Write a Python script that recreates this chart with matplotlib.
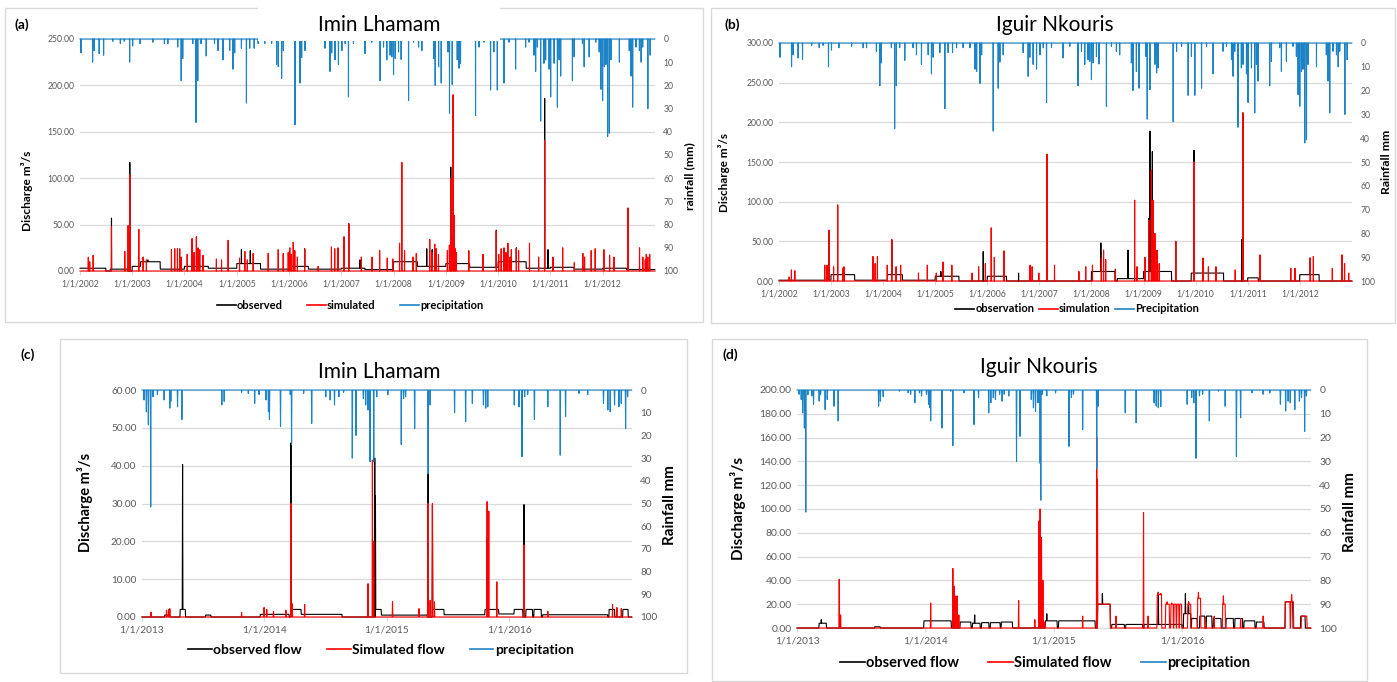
import matplotlib
matplotlib.use("Agg")
import matplotlib.pyplot as plt
import numpy as np
import pandas as pd
from matplotlib.lines import Line2D
from matplotlib.patches import Rectangle
from matplotlib.ticker import FuncFormatter

plt.rcParams['font.family'] = ['Lato', 'DejaVu Sans']

# ---------------- DATA ----------------
# daily rainfall events (date, mm) shared by panels (a) and (b), 2002-2012
prec_ab = [
    ("2002-01-08", 6), ("2002-03-30", 10), ("2002-04-10", 5), ("2002-05-15", 6.3), ("2002-06-15", 7),
    ("2002-08-18", 1), ("2002-10-10", 2), ("2002-11-06", 1), ("2002-12-14", 10),
    ("2003-01-04", 3), ("2003-02-25", 2), ("2003-05-25", 1.4), ("2003-08-14", 2), ("2003-09-07", 2),
    ("2003-11-15", 3.5), ("2003-12-09", 18), ("2003-12-20", 8.4),
    ("2004-02-28", 2), ("2004-03-22", 36), ("2004-04-03", 18), ("2004-04-26", 2), ("2004-06-01", 7.3),
    ("2004-07-29", 2), ("2004-08-22", 5), ("2004-09-26", 9), ("2004-11-12", 5), ("2004-12-05", 13), ("2004-12-17", 6),
    ("2005-02-02", 4), ("2005-03-09", 27.6), ("2005-04-01", 4), ("2005-05-02", 4), ("2005-05-30", 2),
    ("2005-07-15", 2), ("2005-09-01", 2), ("2005-10-06", 11), ("2005-10-18", 12), ("2005-11-10", 17), ("2005-11-22", 5),
    ("2006-02-11", 37), ("2006-03-18", 19), ("2006-03-30", 8), ("2006-04-22", 5), ("2006-09-09", 4),
    ("2006-10-14", 14), ("2006-10-26", 6), ("2006-11-18", 9), ("2006-12-12", 11),
    ("2007-01-05", 5), ("2007-01-28", 2), ("2007-02-20", 25), ("2007-03-27", 2), ("2007-06-16", 6.3),
    ("2007-08-02", 1.4), ("2007-09-29", 18), ("2007-10-23", 3.5), ("2007-11-15", 9), ("2007-12-08", 7), ("2007-12-20", 7.7),
    ("2008-01-01", 15.4), ("2008-01-13", 8.4), ("2008-02-05", 5.6), ("2008-02-23", 8.8), ("2008-04-15", 26.6),
    ("2008-05-20", 1.4), ("2008-06-24", 3.5), ("2008-07-17", 5), ("2008-10-07", 8.4), ("2008-10-18", 20),
    ("2008-11-11", 12), ("2008-11-29", 19),
    ("2009-01-16", 5.6), ("2009-01-26", 32), ("2009-02-14", 19.6), ("2009-03-21", 9), ("2009-04-02", 12.6),
    ("2009-04-13", 10.5), ("2009-07-27", 33), ("2009-08-20", 3.5), ("2009-09-24", 1.4), ("2009-11-09", 22),
    ("2009-12-02", 5.6), ("2009-12-26", 22),
    ("2010-02-11", 19), ("2010-03-18", 1.4), ("2010-05-03", 13), ("2010-07-12", 3.5), ("2010-08-05", 1.4),
    ("2010-09-09", 7), ("2010-09-20", 14), ("2010-10-02", 3.5), ("2010-10-25", 35.4), ("2010-11-17", 10.5),
    ("2010-11-29", 9), ("2010-12-23", 13),
    ("2011-01-03", 25), ("2011-01-27", 10.5), ("2011-02-19", 29.4), ("2011-03-03", 9), ("2011-03-14", 16),
    ("2011-06-04", 18), ("2011-06-16", 7.7), ("2011-08-13", 2), ("2011-08-25", 12), ("2011-09-29", 7.7),
    ("2011-11-14", 1.4), ("2011-12-08", 5.6), ("2011-12-20", 21.7),
    ("2012-01-01", 26.6), ("2012-01-13", 12), ("2012-01-24", 11), ("2012-02-05", 42), ("2012-02-17", 40.6),
    ("2012-02-28", 9), ("2012-04-27", 10), ("2012-07-05", 5), ("2012-07-17", 16), ("2012-07-29", 29.4),
    ("2012-08-21", 3.5), ("2012-09-14", 5), ("2012-09-26", 10), ("2012-10-07", 3.5), ("2012-11-12", 30), ("2012-11-28", 7),
]

# panel (a) Imin Lhamam 2002-2012
obs_a_base = [
    ("2002-01-01", "2002-06-30", 3), ("2002-08-01", "2002-11-30", 2), ("2003-01-01", "2003-02-28", 5),
    ("2003-03-01", "2003-07-15", 10), ("2003-07-16", "2003-12-31", 2), ("2004-01-01", "2004-06-15", 5),
    ("2004-06-16", "2004-12-31", 3), ("2005-01-01", "2005-06-15", 8), ("2005-06-16", "2005-12-31", 2),
    ("2006-01-01", "2006-05-15", 5), ("2006-05-16", "2006-12-31", 2), ("2007-01-01", "2007-06-15", 3),
    ("2007-06-16", "2007-12-31", 1.5), ("2008-01-01", "2008-06-15", 10), ("2008-06-16", "2008-12-31", 5),
    ("2009-01-01", "2009-06-15", 8), ("2009-06-16", "2009-12-31", 4), ("2010-01-01", "2010-07-15", 10),
    ("2010-07-16", "2010-12-31", 3), ("2011-01-01", "2011-06-15", 4), ("2011-06-16", "2011-12-31", 2),
    ("2012-01-01", "2012-06-15", 3), ("2012-06-16", "2012-12-31", 1.5),
]
obs_a_peaks = [
    ("2002-08-09", 57), ("2002-12-15", 117), ("2003-04-20", 12), ("2005-02-02", 23), ("2005-04-05", 22),
    ("2006-04-20", 24), ("2007-02-22", 51), ("2007-05-11", 12), ("2008-08-20", 24), ("2008-09-27", 23),
    ("2009-02-04", 112), ("2009-02-20", 30), ("2009-12-19", 44), ("2010-05-08", 25), ("2010-11-22", 186),
    ("2010-12-15", 23),
]
sim_a_peaks = [
    ("2002-02-28", 15), ("2002-03-10", 10), ("2002-04-03", 17), ("2002-08-09", 48), ("2002-11-10", 21),
    ("2002-12-03", 49), ("2002-12-15", 104), ("2003-02-16", 45), ("2003-03-18", 15), ("2003-04-10", 12),
    ("2003-10-02", 23), ("2003-10-25", 24), ("2003-11-13", 24), ("2003-11-29", 24), ("2003-12-10", 15),
    ("2004-01-20", 18), ("2004-02-23", 35), ("2004-03-08", 20), ("2004-03-24", 37), ("2004-04-05", 25),
    ("2004-04-17", 23), ("2004-05-10", 17), ("2004-08-11", 13), ("2004-09-16", 12), ("2004-11-01", 33),
    ("2005-01-20", 14), ("2005-02-26", 21), ("2005-03-15", 12), ("2005-04-25", 19), ("2005-08-08", 19),
    ("2005-10-17", 23), ("2005-11-21", 19), ("2005-12-26", 20), ("2006-01-06", 25), ("2006-01-15", 18),
    ("2006-01-30", 31), ("2006-02-10", 22), ("2006-02-28", 15), ("2006-04-20", 24), ("2006-07-23", 5),
    ("2006-10-24", 26), ("2006-11-16", 24), ("2006-12-09", 25), ("2007-01-20", 37), ("2007-02-22", 51),
    ("2007-05-21", 15), ("2007-08-04", 15), ("2007-09-26", 22), ("2007-11-18", 14), ("2007-12-27", 13),
    ("2008-02-12", 30), ("2008-02-28", 117), ("2008-03-18", 22), ("2008-05-16", 15), ("2008-06-08", 19),
    ("2008-09-10", 34), ("2008-09-25", 20), ("2008-10-15", 29), ("2008-10-26", 24), ("2008-11-10", 18),
    ("2009-01-11", 22), ("2009-01-25", 28), ("2009-02-04", 100), ("2009-02-10", 35), ("2009-02-20", 190),
    ("2009-02-27", 60), ("2009-03-08", 24), ("2009-03-15", 20), ("2009-06-10", 22), ("2009-09-17", 18),
    ("2009-12-19", 43), ("2010-01-05", 18), ("2010-01-22", 24), ("2010-02-11", 25), ("2010-02-25", 20),
    ("2010-03-10", 30), ("2010-03-25", 15), ("2010-04-03", 23), ("2010-05-08", 24), ("2010-05-24", 22),
    ("2010-08-08", 30), ("2010-10-11", 15), ("2010-11-22", 141), ("2011-01-19", 15), ("2011-03-28", 25),
    ("2011-06-17", 9), ("2011-08-16", 19), ("2011-08-28", 15), ("2011-10-13", 22), ("2011-11-10", 24),
    ("2012-01-10", 23), ("2012-02-19", 17), ("2012-03-20", 15), ("2012-06-26", 68), ("2012-09-15", 25),
    ("2012-10-08", 15), ("2012-10-25", 12), ("2012-11-01", 18), ("2012-11-12", 15), ("2012-11-25", 18),
]

# panel (b) Iguir Nkouris 2002-2012
obs_b_base = [
    ("2002-01-01", "2002-12-31", 1), ("2003-01-01", "2003-06-15", 8), ("2003-06-16", "2004-01-31", 1),
    ("2004-02-01", "2004-05-15", 8), ("2004-05-16", "2004-12-31", 1), ("2005-01-01", "2005-06-15", 6),
    ("2006-01-01", "2006-05-15", 6), ("2008-01-01", "2008-06-15", 12), ("2008-07-01", "2008-12-31", 3),
    ("2009-01-01", "2009-07-15", 12), ("2009-12-01", "2010-07-15", 10), ("2011-01-01", "2011-03-15", 4),
    ("2012-01-01", "2012-05-15", 8),
]
obs_b_peaks = [
    ("2002-12-19", 64), ("2004-03-02", 52), ("2005-02-09", 12), ("2005-12-03", 37), ("2006-08-08", 10),
    ("2008-03-07", 48), ("2008-06-17", 15), ("2008-09-13", 39), ("2009-02-06", 79), ("2009-02-14", 189),
    ("2009-03-03", 163), ("2009-08-14", 50), ("2009-12-20", 165), ("2010-11-19", 52), ("2010-11-28", 212),
    ("2012-03-14", 29),
]
sim_b_peaks = [
    ("2002-03-13", 5), ("2002-03-29", 14), ("2002-04-22", 13), ("2002-11-18", 20), ("2002-12-04", 20),
    ("2002-12-19", 64), ("2003-01-19", 18), ("2003-02-17", 96), ("2003-03-24", 16), ("2003-04-02", 18),
    ("2003-10-22", 31), ("2003-11-06", 22), ("2003-11-22", 31), ("2004-01-30", 20), ("2004-03-02", 52),
    ("2004-04-01", 18), ("2004-05-03", 20), ("2004-09-05", 10), ("2004-11-06", 20), ("2005-01-08", 10),
    ("2005-02-24", 24), ("2005-04-27", 20), ("2005-09-16", 10), ("2005-11-01", 18), ("2005-12-18", 22),
    ("2006-01-28", 67), ("2006-02-19", 30), ("2006-04-28", 38), ("2006-10-27", 20), ("2006-11-11", 18),
    ("2006-12-28", 10), ("2007-02-23", 160), ("2007-04-17", 20), ("2007-10-05", 12), ("2007-11-22", 18),
    ("2008-01-08", 20), ("2008-03-10", 29), ("2008-03-26", 39), ("2008-04-10", 27), ("2008-06-17", 14),
    ("2008-10-30", 102), ("2008-11-15", 18), ("2009-01-11", 30), ("2009-02-06", 77), ("2009-02-24", 140),
    ("2009-03-08", 102), ("2009-03-21", 60), ("2009-04-05", 39), ("2009-04-20", 22), ("2009-08-14", 50),
    ("2009-12-20", 150), ("2010-02-21", 29), ("2010-03-31", 18), ("2010-05-23", 18), ("2010-10-05", 14),
    ("2010-11-28", 212), ("2011-03-28", 33), ("2011-10-30", 16), ("2011-11-28", 16), ("2012-03-14", 29),
    ("2012-04-05", 31), ("2012-08-16", 16), ("2012-10-23", 33), ("2012-11-10", 22), ("2012-12-09", 10),
]

# panel (c) Imin Lhamam 2013-2016
prec_c = [
    ("2013-01-07", 4.4), ("2013-01-14", 9.6), ("2013-01-20", 15.4), ("2013-01-27", 51.5), ("2013-02-03", 3),
    ("2013-02-16", 2), ("2013-03-08", 4.4), ("2013-03-25", 8), ("2013-03-28", 5), ("2013-04-17", 7.4),
    ("2013-04-30", 13), ("2013-08-27", 6.6), ("2013-09-03", 5), ("2013-10-25", 1), ("2013-11-14", 1.5),
    ("2013-12-03", 5.9), ("2013-12-16", 2), ("2014-01-06", 4.4), ("2014-01-13", 9.6), ("2014-01-16", 13),
    ("2014-02-18", 16), ("2014-03-19", 2), ("2014-03-23", 24), ("2014-04-28", 1.5), ("2014-05-22", 14.7),
    ("2014-07-03", 3), ("2014-07-16", 4.4), ("2014-07-29", 6.6), ("2014-08-11", 3), ("2014-08-25", 1),
    ("2014-09-20", 30), ("2014-10-01", 20), ("2014-10-23", 3.7), ("2014-10-30", 6.6), ("2014-11-06", 8.8),
    ("2014-11-12", 31.6), ("2014-11-23", 31.6), ("2014-12-02", 3), ("2015-01-04", 2), ("2015-02-13", 24),
    ("2015-02-20", 3.7), ("2015-02-26", 3), ("2015-03-25", 17), ("2015-05-04", 37), ("2015-05-10", 6.6),
    ("2015-07-22", 10), ("2015-08-24", 14), ("2015-09-13", 6), ("2015-10-16", 6.6), ("2015-10-23", 8),
    ("2015-10-29", 7.4), ("2016-01-16", 6.6), ("2016-01-30", 7.4), ("2016-02-08", 29.4), ("2016-02-16", 3),
    ("2016-02-25", 2), ("2016-03-16", 13), ("2016-04-25", 7.4), ("2016-06-01", 28.7), ("2016-06-17", 11.8),
    ("2016-07-27", 1.5), ("2016-08-22", 2), ("2016-10-08", 5.9), ("2016-10-21", 8.8), ("2016-10-28", 9.6),
    ("2016-11-10", 6.6), ("2016-11-23", 7.4), ("2016-11-30", 5.9), ("2016-12-13", 17), ("2016-12-19", 3),
]
obs_c_base = [
    ("2013-03-10", "2013-03-25", 0.5), ("2013-04-25", "2013-05-10", 2), ("2013-07-10", "2013-07-25", 0.5),
    ("2013-12-20", "2014-03-15", 0.7), ("2014-03-22", "2014-04-20", 2), ("2014-04-21", "2014-08-20", 0.7),
    ("2014-11-28", "2014-12-15", 2), ("2014-12-16", "2015-05-01", 0.5), ("2015-05-17", "2015-06-20", 2),
    ("2015-06-21", "2015-10-20", 0.6), ("2015-10-21", "2015-11-30", 2), ("2015-12-01", "2016-01-15", 0.8),
    ("2016-01-16", "2016-02-10", 2), ("2016-02-20", "2016-03-10", 2), ("2016-03-15", "2016-04-05", 2),
    ("2016-04-10", "2016-10-20", 0.6), ("2016-10-25", "2016-11-10", 2), ("2016-12-05", "2016-12-20", 2),
]
obs_c_peaks = [
    ("2013-05-02", 40.3), ("2014-03-21", 46), ("2014-11-26", 42), ("2014-11-28", 32), ("2015-05-04", 38),
    ("2015-05-17", 29.6), ("2015-10-27", 20.7), ("2016-02-14", 29.7),
]
sim_c_peaks = [
    ("2013-01-28", 1.3), ("2013-03-15", 1.8), ("2013-03-21", 2), ("2013-03-25", 2.2), ("2013-10-25", 1.2),
    ("2013-12-31", 2.5), ("2014-01-08", 2), ("2014-01-28", 1.5), ("2014-03-06", 1.8), ("2014-03-21", 30),
    ("2014-03-25", 3.5), ("2014-05-01", 3.3), ("2014-11-06", 8.8), ("2014-11-19", 41.5), ("2014-11-23", 20),
    ("2015-01-18", 4.1), ("2015-04-07", 2.2), ("2015-05-04", 30), ("2015-05-10", 4.4), ("2015-05-17", 30),
    ("2015-05-23", 4), ("2015-10-27", 30.5), ("2015-11-01", 28), ("2015-11-25", 9.3), ("2016-02-14", 19),
    ("2016-04-25", 1.5), ("2016-11-04", 3.3), ("2016-11-17", 2.5), ("2016-11-30", 2.2),
]

# panel (d) Iguir Nkouris 2013-2016
prec_d = [
    ("2013-01-07", 1.8), ("2013-01-13", 4), ("2013-01-17", 9.6), ("2013-01-22", 16), ("2013-01-26", 51.3),
    ("2013-02-01", 2), ("2013-02-12", 2.5), ("2013-02-17", 6), ("2013-03-05", 4.7), ("2013-03-09", 2),
    ("2013-03-22", 8.2), ("2013-03-28", 4), ("2013-04-16", 6.8), ("2013-04-28", 13), ("2013-08-21", 6.8),
    ("2013-08-26", 4.7), ("2013-09-03", 2.8), ("2013-10-19", 0.5), ("2013-11-13", 1.2), ("2013-11-20", 1.8),
    ("2013-12-02", 5.4), ("2013-12-15", 1.2), ("2013-12-21", 2.5), ("2014-01-04", 1.8), ("2014-01-10", 6),
    ("2014-01-14", 7.5), ("2014-01-16", 13), ("2014-02-17", 16), ("2014-03-14", 0.5), ("2014-03-20", 23.4),
    ("2014-04-21", 1.2), ("2014-05-19", 14.5), ("2014-06-01", 3.2), ("2014-06-30", 9.6), ("2014-07-06", 5.4),
    ("2014-07-13", 3.2), ("2014-07-19", 4), ("2014-07-31", 1.8), ("2014-08-07", 4.7), ("2014-08-13", 1.8),
    ("2014-08-26", 2.5), ("2014-09-17", 30), ("2014-09-27", 19.5), ("2014-10-29", 4), ("2014-11-04", 7.5),
    ("2014-11-10", 9), ("2014-11-17", 5.4), ("2014-11-23", 30.8), ("2014-11-25", 46.3), ("2014-11-29", 1.8),
    ("2014-12-12", 2.5), ("2015-01-06", 1.2), ("2015-02-13", 23.7), ("2015-02-20", 3.2), ("2015-02-26", 1.8),
    ("2015-03-24", 16.7), ("2015-05-03", 33), ("2015-05-07", 6.8), ("2015-07-23", 9.6), ("2015-08-23", 13.8),
    ("2015-10-13", 5.4), ("2015-10-19", 6.8), ("2015-10-25", 7.5), ("2015-11-01", 7), ("2016-01-15", 6),
    ("2016-01-28", 3.2), ("2016-02-03", 5.4), ("2016-02-09", 28.7), ("2016-02-19", 2.5), ("2016-02-28", 1.8),
    ("2016-03-18", 13), ("2016-04-13", 0.5), ("2016-05-02", 6.8), ("2016-06-03", 28), ("2016-06-15", 11.7),
    ("2016-07-17", 1.2), ("2016-08-18", 1.8), ("2016-09-06", 1.2), ("2016-10-06", 6), ("2016-10-21", 8.8),
    ("2016-10-28", 4.7), ("2016-11-03", 5.4), ("2016-11-16", 8.2), ("2016-11-29", 4.7), ("2016-12-05", 3.2),
    ("2016-12-14", 17.4), ("2016-12-19", 2.5),
]
obs_d_base = [
    ("2013-03-05", "2013-03-25", 4), ("2013-08-10", "2013-08-25", 1), ("2013-12-28", "2014-03-15", 6),
    ("2014-04-10", "2014-05-10", 5), ("2014-05-15", "2014-06-05", 4), ("2014-06-10", "2014-06-30", 4.5),
    ("2014-07-05", "2014-08-01", 4.5), ("2014-08-05", "2014-09-05", 5), ("2014-12-08", "2015-01-10", 6),
    ("2015-01-15", "2015-04-28", 6), ("2015-05-06", "2015-06-10", 20), ("2015-06-15", "2015-07-20", 3),
    ("2015-07-25", "2015-09-10", 3), ("2015-09-15", "2015-12-31", 3), ("2016-01-05", "2016-01-25", 12),
    ("2016-01-28", "2016-02-12", 8), ("2016-02-20", "2016-03-05", 10), ("2016-03-10", "2016-03-25", 10),
    ("2016-03-30", "2016-04-20", 8), ("2016-05-05", "2016-05-25", 8), ("2016-05-30", "2016-06-20", 8),
    ("2016-06-25", "2016-07-25", 6), ("2016-07-30", "2016-08-20", 5), ("2016-10-20", "2016-11-10", 22),
    ("2016-12-03", "2016-12-15", 10),
]
obs_d_peaks = [
    ("2013-03-11", 7), ("2014-05-21", 11), ("2014-12-12", 12), ("2015-05-19", 29), ("2015-10-25", 30),
    ("2016-01-10", 29), ("2016-01-19", 22), ("2016-11-07", 23),
]
sim_d_base = [
    ("2015-05-06", "2015-06-10", 20), ("2015-10-22", "2015-11-03", 28), ("2015-11-15", "2015-11-25", 20),
    ("2015-11-30", "2015-12-06", 20), ("2015-12-09", "2015-12-14", 20), ("2015-12-17", "2015-12-22", 20),
    ("2015-12-25", "2015-12-30", 20), ("2016-01-17", "2016-01-25", 20), ("2016-02-14", "2016-02-22", 25),
    ("2016-04-25", "2016-05-02", 20), ("2016-10-20", "2016-11-02", 22), ("2016-11-05", "2016-11-12", 22),
    ("2016-12-05", "2016-12-20", 10),
]
sim_d_peaks = [
    ("2013-05-01", 41), ("2013-05-05", 11), ("2014-01-16", 21), ("2014-03-20", 50), ("2014-03-24", 35),
    ("2014-03-26", 27), ("2014-04-01", 27), ("2014-04-06", 11), ("2014-09-23", 23), ("2014-11-08", 7),
    ("2014-11-20", 90), ("2014-11-23", 100), ("2014-11-27", 76), ("2014-12-01", 40), ("2014-12-06", 5),
    ("2015-03-24", 10), ("2015-05-03", 160), ("2015-05-05", 125), ("2015-06-27", 10), ("2015-09-13", 97),
    ("2015-09-26", 10), ("2015-10-25", 30), ("2015-11-01", 29), ("2015-11-19", 22), ("2015-12-02", 21),
    ("2016-01-19", 22), ("2016-02-16", 30), ("2016-03-07", 9), ("2016-04-01", 10), ("2016-04-27", 27),
    ("2016-06-15", 8), ("2016-08-18", 10), ("2016-11-07", 28),
]

years_ab = list(range(2002, 2013))
years_cd = list(range(2013, 2017))

# ---------------- HELPERS ----------------
W, H = 1397, 682
BLUE = '#1c84c6'
GRID = '#d9d9d9'
TXT = '#595959'

fig = plt.figure(figsize=(W / 100, H / 100), dpi=100)
fig.patch.set_facecolor('white')


def rect(x0, y0, x1, y1):
    return [x0 / W, 1 - y1 / H, (x1 - x0) / W, (y1 - y0) / H]


def build(start, end, segs, peaks):
    idx = pd.date_range(start, end, freq='D')
    s = pd.Series(0.0, index=idx)
    for a, b, v in segs:
        s.loc[a:b] = v
    for d, v in peaks:
        t = pd.Timestamp(d)
        s.loc[t] = max(s.loc[t], v)
    return s


def panel(box, start, end, obs, sim, prec, ymax, ystep, years, fs_tick, fs_date):
    ax = fig.add_axes(rect(*box))
    ax.plot(obs.index, obs.values, color='black', lw=0.8, clip_on=False, zorder=3)
    ax.plot(sim.index, sim.values, color='#ff0000', lw=0.8, clip_on=False, zorder=4)
    ax.set_xlim(pd.Timestamp(start), pd.Timestamp(end))
    ax.set_ylim(0, ymax)
    ax.set_yticks(np.arange(0, ymax + 0.001, ystep))
    ax.yaxis.set_major_formatter(FuncFormatter(lambda v, p: f"{v:.2f}"))
    ax.set_xticks([pd.Timestamp(f"{y}-01-01") for y in years])
    ax.set_xticklabels([f"1/1/{y}" for y in years])
    ax.grid(axis='y', color=GRID, lw=0.9)
    ax.set_axisbelow(True)
    for sp in ['top', 'left', 'right']:
        ax.spines[sp].set_visible(False)
    ax.spines['bottom'].set_color(GRID)
    ax.tick_params(axis='y', length=0, labelsize=fs_tick, labelcolor=TXT, pad=4)
    ax.tick_params(axis='x', length=3, color=GRID, labelsize=fs_date, labelcolor=TXT, pad=3)
    ax2 = ax.twinx()
    ax2.plot(prec.index, prec.values, color=BLUE, lw=0.8, clip_on=False)
    ax2.set_ylim(100, 0)
    ax2.set_yticks(range(0, 101, 10))
    for sp in ax2.spines.values():
        sp.set_visible(False)
    ax2.tick_params(axis='y', length=0, labelsize=fs_tick, labelcolor=TXT, pad=6)
    return ax, ax2


def legend(cx, cy, labels, fs, colsp):
    handles = [Line2D([], [], color=c, lw=1.2) for c in ['black', '#ff0000', BLUE]]
    fig.legend(handles, labels, loc='center', bbox_to_anchor=(cx / W, 1 - cy / H), ncol=3,
               frameon=False, prop={'weight': 'bold', 'size': fs}, handlelength=1.7,
               handletextpad=0.1, columnspacing=colsp)


def frame(x0, y0, x1, y1):
    fig.add_artist(Rectangle((x0 / W, 1 - y1 / H), (x1 - x0) / W, (y1 - y0) / H,
                             transform=fig.transFigure, fill=False, edgecolor=GRID, lw=1, zorder=0))


def ftext(x, y, s, **kw):
    fig.text(x / W, 1 - y / H, s, **kw)


# ---------------- PANELS ----------------
frame(5, 8, 703, 322)
frame(711, 8, 1395, 323)
frame(60, 339, 687, 673)
frame(712, 339, 1367, 681)

# (a)
prec_ab_s = build("2002-01-01", "2012-12-31", [], prec_ab)
obs_a = build("2002-01-01", "2012-12-31", obs_a_base, obs_a_peaks)
sim_a = build("2002-01-01", "2012-12-31", [], sim_a_peaks)
panel((80, 39, 655, 271), "2002-01-01", "2013-01-01", obs_a, sim_a, prec_ab_s, 250, 50, years_ab, 6.2, 6.2)
# white box behind the title (as in the source image)
fig.add_artist(Rectangle((258 / W, 1 - 40.5 / H), (500 - 258) / W, 40.5 / H, transform=fig.transFigure,
                         facecolor='white', edgecolor='none', zorder=5))
ftext(379, 25, "Imin Lhamam", fontsize=15, ha='center', va='center', zorder=6)
ftext(22, 25, "(a)", fontsize=10, fontweight='bold', ha='center', va='center')
ftext(27, 191, "Discharge m³/s", fontsize=8.6, fontweight='bold', rotation=90, ha='center', va='center')
ftext(690, 176, "rainfall (mm)", fontsize=8.8, fontweight='bold', rotation=90, ha='center', va='center')
legend(350, 305, ["observed", "simulated", "precipitation"], 8, 2.2)

# (b)
obs_b = build("2002-01-01", "2012-12-31", obs_b_base, obs_b_peaks)
sim_b = build("2002-01-01", "2012-12-31", [], sim_b_peaks)
panel((779, 43, 1352, 281), "2002-01-01", "2013-01-01", obs_b, sim_b, prec_ab_s, 300, 50, years_ab, 6.2, 6.2)
ftext(1055, 25, "Iguir Nkouris", fontsize=15, ha='center', va='center')
ftext(732, 25, "(b)", fontsize=10, fontweight='bold', ha='center', va='center')
ftext(724, 172, "Discharge m³/s", fontsize=8.4, fontweight='bold', rotation=90, ha='center', va='center')
ftext(1386, 162, "Rainfall mm", fontsize=8.8, fontweight='bold', rotation=90, ha='center', va='center')
legend(1077, 309, ["observation", "simulation", "Precipitation"], 8, 0.4)

# (c)
prec_c_s = build("2013-01-01", "2016-12-31", [], prec_c)
obs_c = build("2013-01-01", "2016-12-31", obs_c_base, obs_c_peaks)
sim_c = build("2013-01-01", "2016-12-31", [], sim_c_peaks)
panel((142, 390, 632, 617), "2013-01-01", "2017-01-01", obs_c, sim_c, prec_c_s, 60, 10, years_cd, 7.2, 7.3)
ftext(379, 372, "Imin Lhamam", fontsize=15, ha='center', va='center')
ftext(28, 355, "(c)", fontsize=10, fontweight='bold', ha='center', va='center')
ftext(85, 502, "Discharge m³/s", fontsize=10.5, fontweight='bold', rotation=90, ha='center', va='center')
ftext(670, 505, "Rainfall mm", fontsize=11, fontweight='bold', rotation=90, ha='center', va='center')
legend(381, 650, ["observed flow", "Simulated flow", "precipitation"], 10, 1.8)

# (d)
prec_d_s = build("2013-01-01", "2016-12-31", [], prec_d)
obs_d = build("2013-01-01", "2016-12-31", obs_d_base, obs_d_peaks)
sim_d = build("2013-01-01", "2016-12-31", sim_d_base, sim_d_peaks)
panel((797, 390, 1311, 628), "2013-01-01", "2017-01-01", obs_d, sim_d, prec_d_s, 200, 20, years_cd, 7.5, 7.3)
ftext(1039, 367, "Iguir Nkouris", fontsize=15, ha='center', va='center')
ftext(730, 355, "(d)", fontsize=10, fontweight='bold', ha='center', va='center')
ftext(738, 508, "Discharge m³/s", fontsize=11, fontweight='bold', rotation=90, ha='center', va='center')
ftext(1350, 512, "Rainfall mm", fontsize=11, fontweight='bold', rotation=90, ha='center', va='center')
legend(1045, 663, ["observed flow", "Simulated flow", "precipitation"], 10.5, 2.0)

fig.savefig("out.png", dpi=100, facecolor='white')
